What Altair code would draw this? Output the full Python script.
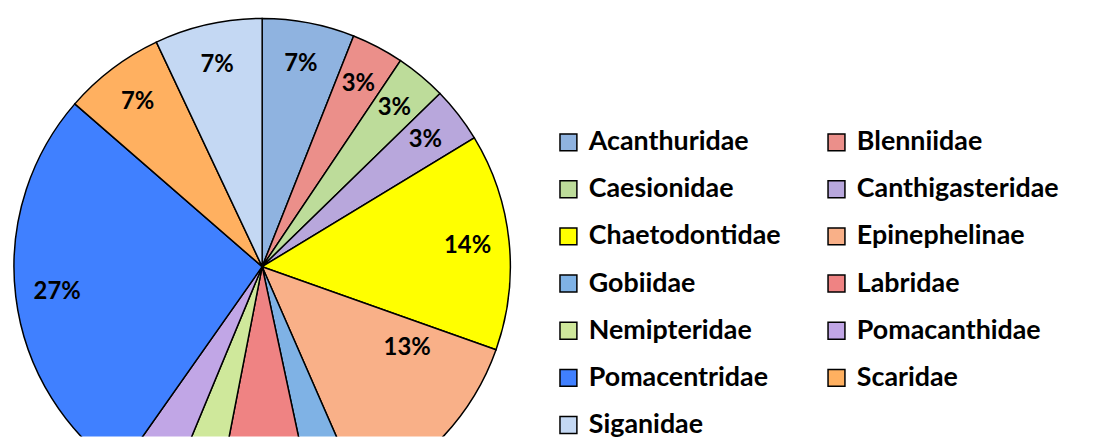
import altair as alt
import pandas as pd

families = ["Acanthuridae", "Blenniidae", "Caesionidae", "Canthigasteridae",
            "Chaetodontidae", "Epinephelinae", "Gobiidae", "Labridae",
            "Nemipteridae", "Pomacanthidae", "Pomacentridae", "Scaridae", "Siganidae"]
shares = [6.0, 3.4, 3.3, 3.6, 14.1, 13.0, 3.2, 6.4, 3.2, 3.5, 26.6, 6.6, 7.0]
labels = ["7%", "3%", "3%", "3%", "14%", "13%", "", "", "", "", "27%", "7%", "7%"]
colors = ["#8fb3e0", "#eb8f8a", "#bddc9a", "#b8a7dc", "#ffff00", "#f9b088",
          "#7fb2e5", "#ef8383", "#cfe89b", "#c1a6e6", "#4080ff", "#ffb060", "#c4d8f3"]

df = pd.DataFrame({"family": families, "share": shares, "label": labels,
                   "idx": list(range(len(families)))})

CX, CY = 256, 259
FONT = "Lato"

base = alt.Chart(df).encode(
    theta=alt.Theta("share:Q", stack=True),
    order=alt.Order("idx:Q", sort="ascending"),
)

pie = base.mark_arc(radius=250, stroke="black", strokeWidth=1.5, x=CX, y=CY, clip=True).encode(
    color=alt.Color(
        "family:N",
        scale=alt.Scale(domain=families, range=colors),
        sort=families,
        legend=alt.Legend(
            title=None, orient="none", legendX=551, legendY=120,
            columns=2, direction="horizontal", symbolType="square", symbolSize=290,
            symbolStrokeColor="black", symbolStrokeWidth=1.5,
            labelFont=FONT, labelFontSize=27, labelFontWeight="bold",
            labelColor="black", labelOffset=7, rowPadding=19.5,
            columnPadding=42, padding=0, labelLimit=400,
        ),
    )
)

txt = base.mark_text(radius=208, x=CX, y=CY, font=FONT, fontSize=24,
                     fontWeight="bold", color="black", clip=True).encode(
    text=alt.condition("datum.family == 'Epinephelinae'", alt.value(""), alt.Text("label:N"))
)

txt2 = base.mark_text(radius=175, x=CX, y=CY, dx=18, dy=-37, font=FONT, fontSize=24,
                      fontWeight="bold", color="black", clip=True).encode(
    text=alt.condition("datum.family == 'Epinephelinae'", alt.Text("label:N"), alt.value(""))
)

chart = alt.layer(pie, txt, txt2).properties(
    width=1111, height=430,
    autosize=alt.AutoSizeParams(type="none"),
    padding=0,
).configure_view(stroke=None)

chart.save("out.html", embed_options={"renderer": "svg", "actions": False})
